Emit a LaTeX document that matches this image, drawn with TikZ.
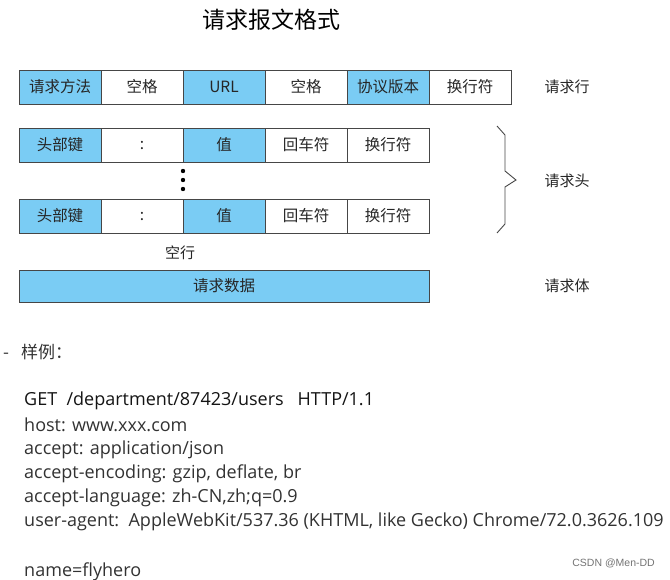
\documentclass[tikz,border=0pt]{standalone}
\usepackage{fontspec}
\setmainfont{Noto Sans CJK SC}
\newfontfamily\codefont{Open Sans}
\newfontfamily\wmfont{Liberation Sans}
\definecolor{cellblue}{RGB}{122,204,244}
\definecolor{celledge}{RGB}{70,70,70}
\definecolor{codegray}{RGB}{50,50,50}
\tikzset{
  cell/.style={draw=celledge, line width=0.9pt, minimum width=82pt, minimum height=34pt, inner sep=0pt, font=\fontsize{15.5}{15.5}\selectfont, text=black!85},
  bluecell/.style={cell, fill=cellblue},
  whitecell/.style={cell, fill=white},
  sidelabel/.style={font=\fontsize{15}{15}\selectfont, text=black!85},
  codeline/.style={anchor=west, inner sep=0pt, font=\codefont\fontsize{18}{18}\selectfont, text=codegray},
}
\begin{document}
\begin{tikzpicture}[x=1pt,y=-1pt]
\useasboundingbox (0,0) rectangle (670,580);
\clip (0,0) rectangle (670,580);
% title
\node[font=\fontsize{23}{23}\selectfont] (title) at (271,20) {请求报文格式};
% request line
\node[bluecell]  (a1) at (60,87)  {请求方法};
\node[whitecell] (a2) at (142,87) {空格};
\node[bluecell]  (a3) at (224,87) {URL};
\node[whitecell] (a4) at (306,87) {空格};
\node[bluecell]  (a5) at (388,87) {协议版本};
\node[whitecell] (a6) at (470,87) {换行符};
\node[sidelabel] (l1) at (567,87) {请求行};
% header line 1
\node[bluecell]  (b1) at (60,145)  {头部键};
\node[whitecell] (b2) at (142,145) {:};
\node[bluecell]  (b3) at (224,145) {值};
\node[whitecell] (b4) at (306,145) {回车符};
\node[whitecell] (b5) at (388,145) {换行符};
% dots
\fill[black] (183,171) circle (2.2) (183,180) circle (2.2) (183,189) circle (2.2);
% header line 2
\node[bluecell]  (c1) at (60,216)  {头部键};
\node[whitecell] (c2) at (142,216) {:};
\node[bluecell]  (c3) at (224,216) {值};
\node[whitecell] (c4) at (306,216) {回车符};
\node[whitecell] (c5) at (388,216) {换行符};
% brace
\draw[celledge, line width=0.9pt, line join=miter] (497,126) -- (505,135) -- (505,171) -- (516,180) -- (505,187) -- (505,224) -- (497,233);
\node[sidelabel] (l2) at (567,181) {请求头};
% blank line
\node[sidelabel] (kh) at (180,253) {空行};
% body
\node[bluecell, minimum width=410pt, minimum height=32pt] (d1) at (224,286) {请求数据};
\node[sidelabel] (l3) at (567,286) {请求体};
% example
\node[anchor=west, inner sep=0pt, font=\fontsize{17}{17}\selectfont, text=codegray] (ex) at (3,352) {-\hspace{12pt}样例：};
\node[codeline, text=black!92] (g1) at (24,401) {GET\ \ /department/87423/users\ \ \ HTTP/1.1};
\node[codeline] (g2) at (24,425) {host: www.xxx.com};
\node[codeline] (g3) at (24,450) {accept: application/json};
\node[codeline] (g4) at (24,474) {accept-encoding: gzip, deflate, br};
\node[codeline] (g5) at (24,498) {accept-language: zh-CN,zh;q=0.9};
\node[codeline] (g6) at (24,522) {user-agent:\ \ AppleWebKit/537.36 (KHTML, like Gecko) Chrome/72.0.3626.109};
\node[codeline] (g7) at (24,572) {name=flyhero};
\node[anchor=east, inner sep=0pt, font=\wmfont\fontsize{10.5}{10.5}\selectfont, text=black!55] (wm) at (655,563) {CSDN @Men-DD};
\end{tikzpicture}
\end{document}
